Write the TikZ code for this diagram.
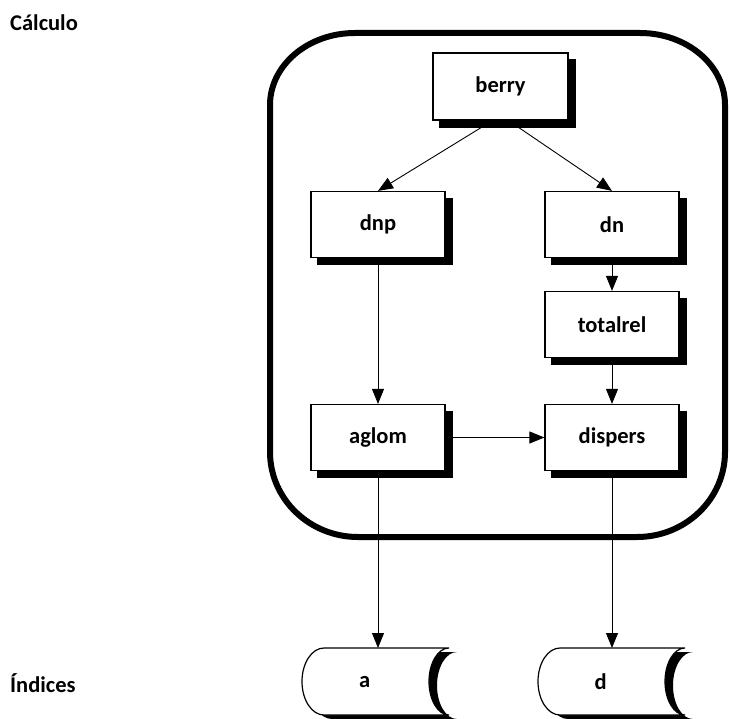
\documentclass[tikz,border=0pt]{standalone}
\usepackage{fontspec}
\setmainfont{Carlito}
\usepackage{tikz}
\usetikzlibrary{arrows.meta, positioning, backgrounds}

% contorno do deposito de dados (canto superior esquerdo na origem)
\newcommand{\depositopath}{%
  (22,0) -- (147,0) arc[start angle=90, end angle=270, x radius=20, y radius=33.5]
  -- (22,-67) arc[start angle=270, end angle=90, x radius=22, y radius=33.5] -- cycle}

% deposito: nome, canto superior esquerdo, texto
\newcommand{\deposito}[3]{%
  \begin{scope}[shift={#2}]
    \fill[black, shift={(8,-4)}] \depositopath;
    \filldraw[fill=white, line width=1.2pt] \depositopath;
    \node[anchor=north west, minimum width=125pt, minimum height=67pt, inner sep=0pt] (#1) at (0,0) {#3};
  \end{scope}}

\begin{document}
\begin{tikzpicture}[x=1pt, y=1pt,
    font=\fontsize{22.5}{26}\selectfont\bfseries,
    caixa/.style={draw, fill=white, line width=1.2pt, minimum width=134pt, minimum height=66pt, inner sep=0pt},
    seta/.style={-{Triangle[length=15pt, width=12pt]}, line width=0.9pt}]

\useasboundingbox (0,0) rectangle (730,-719);

% rotulos das camadas
\node[anchor=base west, inner sep=0pt] (calculo) at (10,-31) {Cálculo};
\node[anchor=base west, inner sep=0pt] (indices) at (10,-692) {Índices};

% moldura arredondada do calculo
\draw[line width=6pt] (270,-105)
  arc[start angle=180, end angle=90, x radius=85, y radius=72] -- (640,-33)
  arc[start angle=90, end angle=0, x radius=85, y radius=72] -- (725,-452)
  arc[start angle=0, end angle=-90, x radius=88, y radius=85] -- (358,-537)
  arc[start angle=270, end angle=180, x radius=88, y radius=85] -- cycle;

% processos
\node[caixa, minimum width=135pt, minimum height=67pt] (berry) at (500.5,-86.5) {berry};
\node[caixa] (dnp) at (378,-224.5) {dnp};
\node[caixa] (dn) at (612,-224.5) {dn};
\node[caixa] (totalrel) at (612,-324.5) {totalrel};
\node[caixa] (aglom) at (378,-437.5) {aglom};
\node[caixa] (dispers) at (612,-437.5) {dispers};

% sombras das caixas
\begin{scope}[on background layer]
  \foreach \caixa in {berry, dnp, dn, totalrel, aglom, dispers}
    \fill ([shift={(7,-7)}]\caixa.south west) rectangle ([shift={(7,-7)}]\caixa.north east);
\end{scope}

% depositos de indices
\deposito{a}{(302,-648)}{a}
\deposito{d}{(538,-648)}{d}

% fluxos
\draw[seta] ([xshift=-8pt]berry.south) -- (dnp.north);
\draw[seta] ([xshift=8pt]berry.south) -- (dn.north);
\draw[seta] (dn) -- (totalrel);
\draw[seta] (totalrel) -- (dispers);
\draw[seta] (dnp) -- (aglom);
\draw[seta] (aglom) -- (dispers);
\draw[seta] (aglom.south) -- (aglom.south |- a.north);
\draw[seta] (dispers.south) -- (dispers.south |- d.north);

\end{tikzpicture}
\end{document}
